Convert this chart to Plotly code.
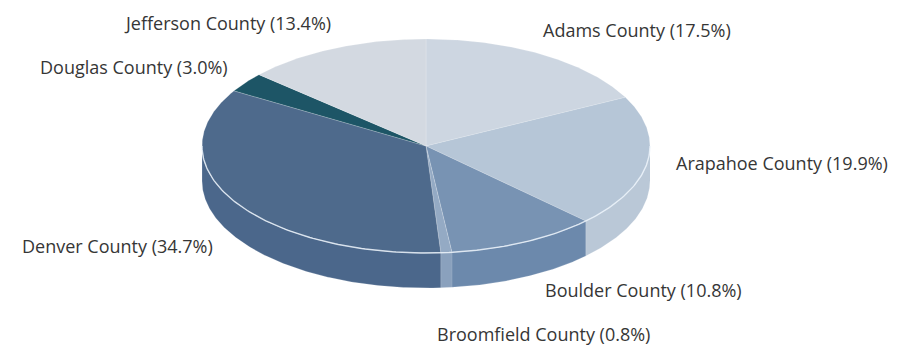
import numpy as np
import plotly.graph_objects as go

# ---- data ----
counties = ["Adams County", "Arapahoe County", "Boulder County", "Broomfield County",
            "Denver County", "Douglas County", "Jefferson County"]
shares = [17.5, 19.9, 10.8, 0.8, 34.7, 3.0, 13.4]

# ---- styling / layout (not data) ----
top_colors = ["#cdd6e1", "#b6c6d7", "#7893b3", "#94aac4", "#4e6a8c", "#1d5566", "#d3d9e1"]
side_colors = ["#c3cedb", "#bac8d7", "#6c89ac", "#8aa1bd", "#4b678b", "#1a4b5b", "#c9d1db"]
label_pos = [(637, 30), (782, 163), (643, 290), (543, 334), (117, 246), (134, 67), (227, 23)]

W, H = 900, 346
CX, CY, RX, RY, DEPTH = 426, 146, 224, 107, 35
START = 270.0  # degrees, 12 o'clock, clockwise on screen

total = sum(shares)
bounds = [START]
for s in shares:
    bounds.append(bounds[-1] + 360.0 * s / total)


def arc(t0, t1, n=None):
    if n is None:
        n = max(4, int(abs(t1 - t0) * 2))
    t = np.radians(np.linspace(t0, t1, n))
    return CX + RX * np.cos(t), CY + RY * np.sin(t)


fig = go.Figure()

# side walls (front half only: screen angles in [0,180] mod 360)
for i, (a0, a1) in enumerate(zip(bounds[:-1], bounds[1:])):
    for k in (0, 360, 720):
        lo = max(a0, k + 0)
        hi = min(a1, k + 180)
        if hi > lo:
            xs, ys = arc(lo, hi)
            px = np.concatenate([xs, xs[::-1]])
            py = np.concatenate([ys, ys[::-1] + DEPTH])
            fig.add_trace(go.Scatter(x=px, y=py, mode="lines", fill="toself",
                                     fillcolor=side_colors[i],
                                     line=dict(width=0.6, color="rgba(255,255,255,0.3)"),
                                     hoverinfo="skip", showlegend=False))

# top faces
for i, (a0, a1) in enumerate(zip(bounds[:-1], bounds[1:])):
    xs, ys = arc(a0, a1)
    px = np.concatenate([[CX], xs, [CX]])
    py = np.concatenate([[CY], ys, [CY]])
    fig.add_trace(go.Scatter(x=px, y=py, mode="lines", fill="toself",
                             fillcolor=top_colors[i],
                             line=dict(width=0.6, color="rgba(255,255,255,0.3)"),
                             name=counties[i], hoverinfo="name", showlegend=False))

# rim highlight on front edge of top face
xs, ys = arc(0, 180, 200)
fig.add_trace(go.Scatter(x=xs, y=ys, mode="lines",
                         line=dict(width=1.4, color="rgba(235,242,250,0.8)"),
                         hoverinfo="skip", showlegend=False))

annotations = []
for name, val, (lx, ly) in zip(counties, shares, label_pos):
    annotations.append(dict(x=lx, y=ly, xref="x", yref="y", showarrow=False,
                            text=f"{name} ({val:.1f}%)", xanchor="center", yanchor="middle",
                            font=dict(family="Open Sans", size=18, color="#363636")))

fig.update_layout(
    width=W, height=H, margin=dict(l=0, r=0, t=0, b=0),
    paper_bgcolor="white", plot_bgcolor="white",
    xaxis=dict(range=[0, W], visible=False, fixedrange=True),
    yaxis=dict(range=[H, 0], visible=False, fixedrange=True),
    annotations=annotations,
)

fig.write_html("out.html")
